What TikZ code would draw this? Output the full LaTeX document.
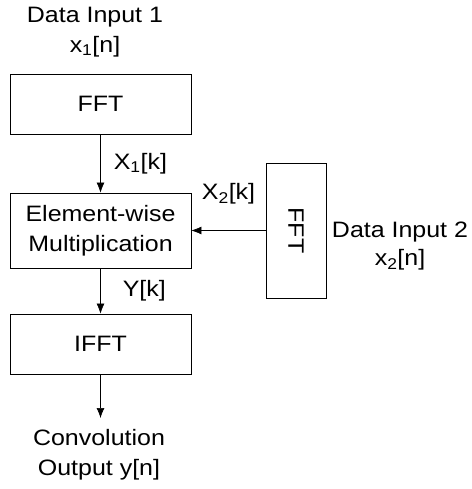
\documentclass[tikz,border=0pt]{standalone}
\usepackage{fontspec}
\setmainfont{Liberation Sans}[FakeStretch=1.12]
\usetikzlibrary{arrows.meta}

\begin{document}
\begin{tikzpicture}[x=1pt, y=-1pt, semithick, >={Latex[length=10pt,width=8pt]},
      font=\fontsize{22.3}{30}\selectfont,
      block/.style={draw, line width=0.8pt, inner sep=0pt},
      lbl/.style={inner sep=0pt, align=center}]
    \useasboundingbox (0,0) rectangle (471,489);
    % signal path
    \node (IN1) [lbl] at (95,32) {Data Input 1\\x\textsubscript{1}[n]};
    \node (FFT1) [block, minimum width=181pt, minimum height=60pt] at (100.5,104) {FFT};
    \node (MULT) [block, minimum width=181pt, minimum height=75pt, align=center] at (100.5,230.5)
      {Element-wise\\Multiplication};
    \node (IFFT) [block, minimum width=181pt, minimum height=60pt] at (100.5,344) {IFFT};
    \node (OUT) [lbl] at (99,455) {Convolution\\Output y[n]};
    % second input
    \node (FFT2) [block, minimum width=60pt, minimum height=135pt] at (296,230.5) {};
    \node [rotate=-90, inner sep=0pt] at (FFT2.center) {FFT};
    \node (IN2) [lbl, font=\fontsize{22.3}{28}\selectfont] at (400,246) {Data Input 2\\x\textsubscript{2}[n]};
    % connectors
    \draw[->] (FFT1.south) -- (MULT.north) node[midway, right, xshift=13pt, inner sep=0pt] {X\textsubscript{1}[k]};
    \draw[->] (FFT2.west |- MULT.east) -- (MULT.east) node (X2) [pos=0.5, above, yshift=26pt, inner sep=0pt] {X\textsubscript{2}[k]};
    \draw[->] (MULT.south) -- (IFFT.north) node[midway, right, xshift=22pt, inner sep=0pt] {Y[k]};
    \coordinate (END) at (100.5,418);
    \draw[->] (IFFT.south) -- (END);
  \end{tikzpicture}
\end{document}
